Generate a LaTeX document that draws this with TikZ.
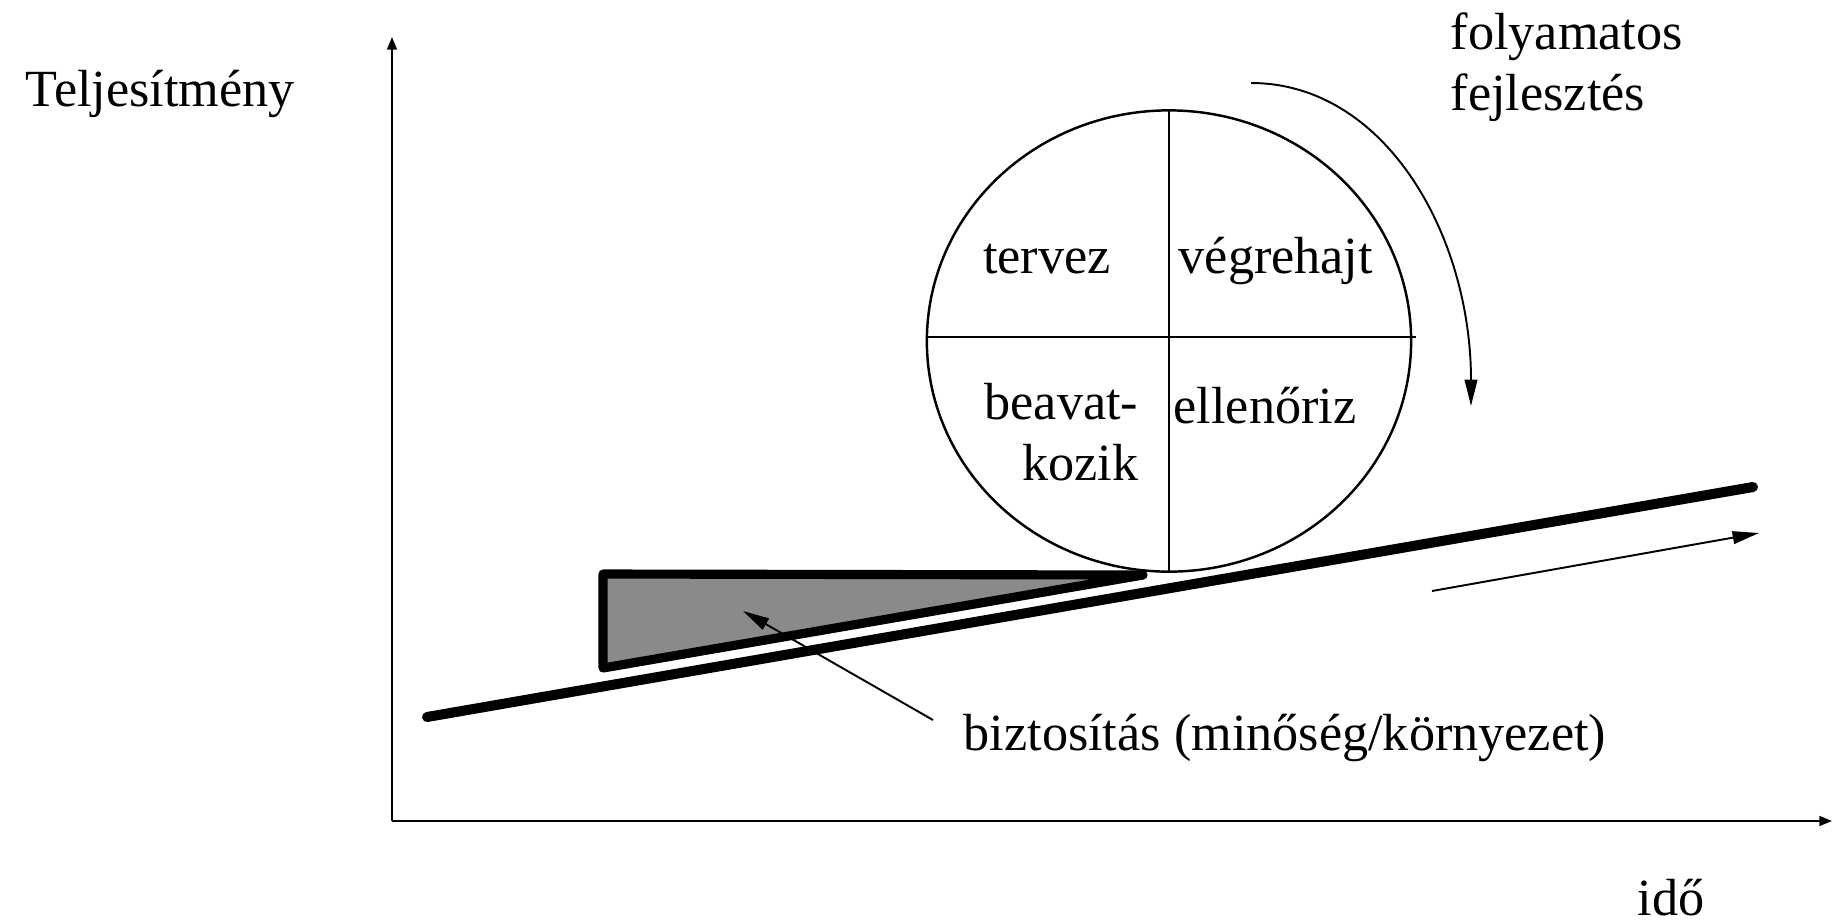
\documentclass[tikz,border=0pt]{standalone}
\usepackage{fontspec}
\setmainfont{Liberation Serif}
\usepackage{tikz}
\usetikzlibrary{arrows.meta,shapes.geometric,positioning}
\definecolor{wedgegray}{gray}{0.54}

\begin{document}
\begin{tikzpicture}[x=0.01cm,y=-0.01cm,
	font=\fontsize{14.85}{17.3}\selectfont,
	>={Triangle[length=7.5pt,width=3.6pt]},
	lbl/.style={inner sep=0pt},
	axis/.style={line width=0.55pt,-{Triangle[length=3.6pt,width=2.8pt]}},
	arr/.style={line width=0.55pt,->},
	heavy/.style={line width=2.8pt,line cap=round,line join=round}]
	\useasboundingbox (0,0) rectangle (1832,923);

	% axes
	\coordinate (O) at (392,821);
	\coordinate (Y) at (392,37);
	\coordinate (X) at (1832,821);
	\draw[axis] (O) -- (Y);
	\draw[axis] (O) -- (X);
	\node[lbl,anchor=base west] (P) at (25,106) {Teljesítmény};
	\node[lbl,anchor=base west] (T) at (1637,915) {idő};

	% slope and wedge
	\coordinate (S1) at (427,717);
	\coordinate (S2) at (1753,487);
	\draw[heavy,line width=2.85pt] (S1) -- (S2);
	\coordinate (W1) at (603,574);
	\coordinate (W2) at (1143,575);
	\coordinate (W3) at (603,668);
	\filldraw[heavy,fill=wedgegray,line width=2.6pt] (W1) -- (W2) -- (W3) -- cycle;

	% PDCA circle
	\node[shape=ellipse,draw=black,line width=0.7pt,inner sep=0pt,
		minimum width=4.84cm,minimum height=4.61cm] (C) at (1169,341) {};
	\draw[line width=0.6pt] (C.north) -- (C.south);
	\draw[line width=0.6pt] ([yshift=0.04cm]C.west) -- ([xshift=0.04cm,yshift=0.04cm]C.east);
	\node[lbl,anchor=base] (A) at (1047,273) {tervez};
	\node[lbl,anchor=base west] (B) at (1178,273) {végrehajt};
	\node[lbl,anchor=north east,align=right] (D) at (1139,383) {beavat-\\kozik};
	\node[lbl,anchor=base west] (E) at (1173,423) {ellenőriz};

	% continuous improvement
	\node[lbl,anchor=north west,align=left] (F) at (1450,12) {folyamatos\\fejlesztés};
	\coordinate (F1) at (1251,83);
	\coordinate (F2) at (1471,406);
	\draw[arr] (F1) .. controls (1385,83) and (1471,235) .. (F2);
	\coordinate (G1) at (1432,591);
	\coordinate (G2) at (1759,533);
	\draw[arr] (G1) -- (G2);

	% assurance
	\node[lbl,anchor=base west] (H) at (963,750) {biztosítás (minőség/környezet)};
	\coordinate (H1) at (933,720);
	\coordinate (H2) at (743,611);
	\draw[arr] (H1) -- (H2);
\end{tikzpicture}
\end{document}
